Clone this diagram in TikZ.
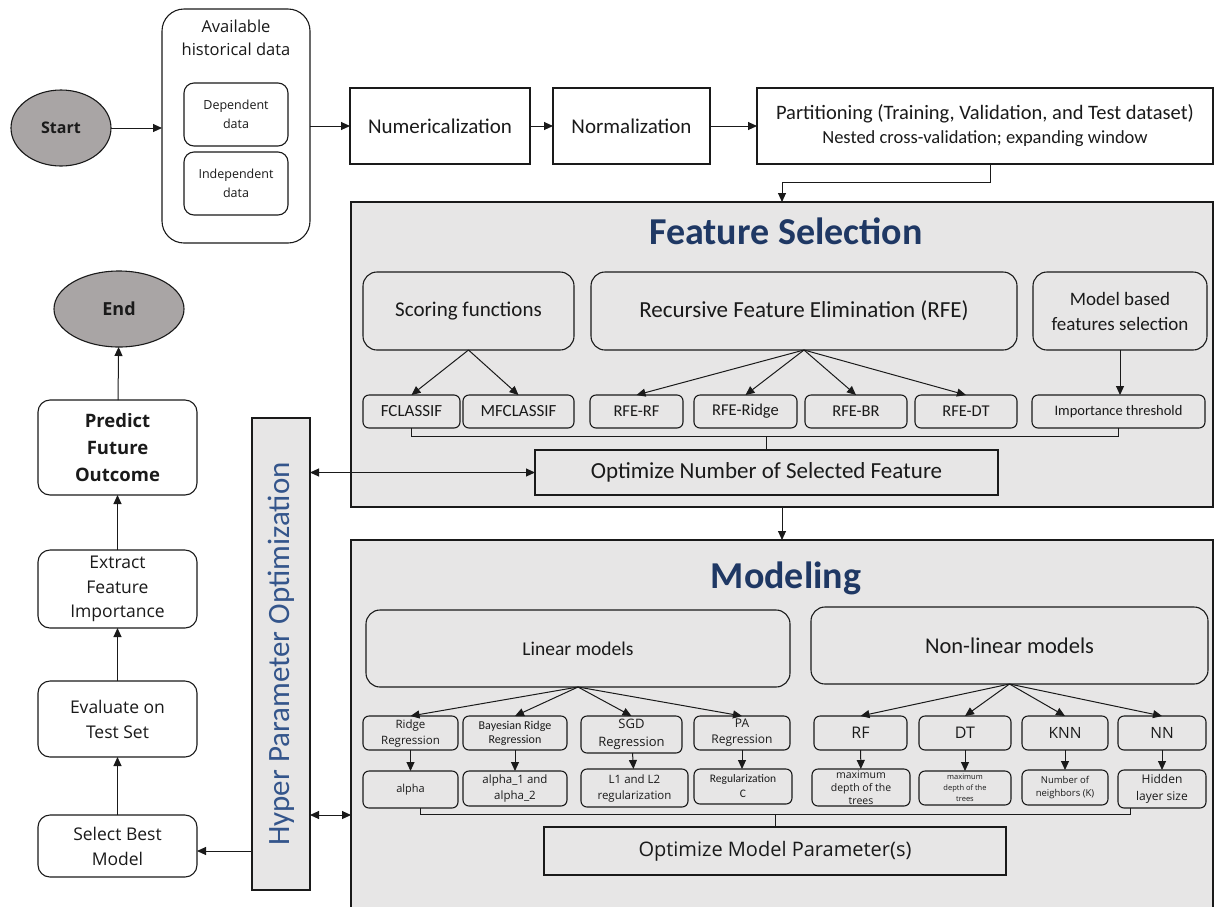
\documentclass[tikz,border=0pt]{standalone}
\usepackage{fontspec}
\setmainfont{Carlito}
\newfontfamily\sg{Open Sans}
\usetikzlibrary{arrows.meta,shapes.geometric,calc}

\definecolor{panelgray}{HTML}{E7E6E6}
\definecolor{termgray}{HTML}{A9A5A5}
\definecolor{titleblue}{HTML}{1F3864}
\definecolor{hpoblue}{HTML}{34558B}
\definecolor{ink}{HTML}{1A1A1A}

\newcommand\fs[2]{\fontsize{#1}{#2}\selectfont}
% \placebox[style]{name}{x1}{y1}{x2}{y2}{text}  -- box given by its corners
\newcommand\placebox[7][]{%
  \node[#1, minimum width={(#5)-(#3)}, minimum height={(#6)-(#4)}]
    (#2) at ({((#3)+(#5))/2},{((#4)+(#6))/2}) {#7};}

\tikzset{
  base/.style={draw=ink, line width=1.1pt, align=center, inner sep=1pt, outer sep=0pt, text=ink},
  sqbox/.style={base, fill=white},
  gbox/.style={base},
  rbox/.style={base, rounded corners=#1},
  rbox/.default=7pt,
  panel/.style={base, fill=panelgray},
  term/.style={base, ellipse, fill=termgray},
  arr/.style={draw=ink, line width=1pt, -{Triangle[length=9pt,width=8pt]}},
  darr/.style={draw=ink, line width=1pt, {Triangle[length=9pt,width=8pt]}-{Triangle[length=9pt,width=8pt]}},
  ln/.style={draw=ink, line width=1pt},
  cf/.style 2 args={font=\fs{#1}{#2}},
  sf/.style 2 args={font=\sg\fs{#1}{#2}},
}

\begin{document}
\begin{tikzpicture}[x=1pt,y=-1pt]
\useasboundingbox (0,0) rectangle (1215,906);
\clip (0,0) rectangle (1215,906);

% ---------- data preparation row ----------
\node[term, minimum width=100, minimum height=76, font=\sg\bfseries\fs{16}{19}] (start) at (61,128) {Start};

\placebox[rbox=22pt, fill=white]{avail}{162}{9}{310}{243}{}
\node[anchor=north, align=center, text=ink, inner sep=0pt, sf={16.5}{23}] (availt) at ($(avail.north)+(0,11)$) {Available\\historical data};
\placebox[rbox=10pt, sf={12.5}{19}]{dep}{184}{83}{288}{146}{Dependent\\data}
\placebox[rbox=10pt, sf={12.5}{19}]{indep}{184}{152}{288}{215}{Independent\\data}

\placebox[sqbox, cf={21}{24}]{num}{350}{88}{530}{164}{Numericalization}
\placebox[sqbox, cf={21}{24}]{norm}{553}{88}{710}{164}{Normalization}
\placebox[sqbox, cf={20.5}{24}]{part}{757}{88}{1213}{164}{Partitioning (Training, Validation, and Test dataset)\\\fs{18.5}{22}Nested cross-validation; expanding window}

\draw[arr] (start) -- (avail.west |- start);
\draw[arr] (avail.east |- num.west) -- (num.west);
\draw[arr] (num) -- (norm);
\draw[arr] (norm) -- (part);

% ---------- feature selection panel ----------
\placebox[panel]{fsbox}{351}{202}{1213}{507}{}
\node[text=titleblue, inner sep=0pt, font=\bfseries\fs{38}{42}] (fstitle) at (786,231) {Feature Selection};
\draw[arr] ([xshift=5pt]part.south) -- ++(0,18) -| (fsbox.north);

\placebox[rbox=14pt, cf={21}{24}]{score}{363}{272}{574}{350}{Scoring functions}
\placebox[rbox=14pt, cf={23}{26}]{rfe}{591}{272}{1017}{350}{Recursive Feature Elimination (RFE)}
\placebox[rbox=14pt, cf={19}{25}]{mb}{1033}{272}{1207}{350}{Model based\\features selection}

\placebox[rbox=6pt, cf={17}{19}]{fcl}{363}{395}{460}{428}{FCLASSIF}
\placebox[rbox=6pt, cf={17}{19}]{mfcl}{463}{395}{574}{428}{MFCLASSIF}
\placebox[rbox=6pt, cf={16.5}{19}]{rferf}{590}{395}{683}{428}{RFE-RF}
\placebox[rbox=6pt, cf={16.5}{19}]{rferidge}{694}{395}{797}{428}{RFE-Ridge}
\placebox[rbox=6pt, cf={16.5}{19}]{rfebr}{805}{395}{907}{428}{RFE-BR}
\placebox[rbox=6pt, cf={16.5}{19}]{rfedt}{915}{395}{1017}{428}{RFE-DT}
\placebox[rbox=6pt, cf={14.5}{17}]{imp}{1032}{395}{1205}{428}{Importance threshold}

\draw[arr] (score.south) -- (fcl.north);
\draw[arr] (score.south) -- (mfcl.north);
\foreach \t in {rferf,rferidge,rfebr,rfedt} \draw[arr] (rfe.south) -- (\t.north);
\draw[arr] (mb.south) -- (mb.south |- imp.north);

\placebox[gbox, cf={23}{26}]{optn}{535}{450}{998}{495}{Optimize Number of Selected Feature}
\coordinate (fsbar) at (0,436);
\draw[ln] (fcl.south) -- (fcl.south |- fsbar) -| (imp.south);
\draw[ln] (optn.north) -- (optn.north |- fsbar);

% ---------- modeling panel ----------
\placebox[panel]{modbox}{351}{540}{1213}{920}{}
\node[text=titleblue, inner sep=0pt, font=\bfseries\fs{38}{42}] (modtitle) at (786,578) {Modeling};
\draw[arr] (fsbox.south) -- (modbox.north);

\placebox[rbox=14pt, cf={19.5}{22}]{lin}{366}{610}{790}{687}{Linear models}
\placebox[rbox=14pt, cf={22.5}{26}]{nlin}{811}{607}{1208}{684}{Non-linear models}

\placebox[rbox=6pt, sf={11.5}{16}]{ridge}{363}{716}{458}{750}{Ridge\\Regression}
\placebox[rbox=6pt, cf={12}{14}]{bayes}{463}{716}{567}{750}{Bayesian Ridge\\Regression}
\placebox[rbox=6pt, sf={13}{18}]{sgd}{581}{716}{682}{753}{SGD\\Regression}
\placebox[rbox=6pt, sf={12}{16}]{pa}{694}{716}{790}{750}{PA\\Regression}

\placebox[rbox=6pt, sf={11}{15}]{alpha}{363}{771}{458}{808}{alpha}
\placebox[rbox=6pt, sf={11.5}{16}]{aonetwo}{463}{771}{567}{806}{alpha\_1 and\\alpha\_2}
\placebox[rbox=6pt, sf={11.5}{16}]{lonetwo}{581}{769}{688}{807}{L1 and L2\\regularization}
\placebox[rbox=6pt, cf={11.5}{15}]{regc}{694}{769}{792}{804}{Regularization\\C}

\placebox[rbox=6pt, sf={16}{19}]{rf}{814}{716}{907}{750}{RF}
\placebox[rbox=6pt, sf={16}{19}]{dt}{919}{716}{1011}{750}{DT}
\placebox[rbox=6pt, sf={15.5}{19}]{knn}{1022}{716}{1108}{750}{KNN}
\placebox[rbox=6pt, sf={15.5}{19}]{nn}{1118}{716}{1206}{750}{NN}

\placebox[rbox=6pt, sf={10.5}{13}]{mdrf}{812}{769}{910}{806}{maximum\\depth of the\\trees}
\placebox[rbox=6pt, sf={7.5}{11}]{mddt}{919}{771}{1011}{805}{maximum\\depth of the\\trees}
\placebox[rbox=6pt, sf={9.5}{13}]{nk}{1022}{770}{1108}{805}{Number of\\neighbors (K)}
\placebox[rbox=6pt, sf={12}{17}]{hls}{1118}{770}{1206}{808}{Hidden\\layer size}

\foreach \t in {ridge,bayes,sgd,pa} \draw[arr] (lin.south) -- (\t.north);
\foreach \t in {rf,dt,knn,nn} \draw[arr] (nlin.south) -- (\t.north);
\draw[arr] (ridge) -- (alpha);
\draw[arr] (bayes) -- (aonetwo);
\draw[arr] (sgd) -- (lonetwo);
\draw[arr] (pa.south) -- (pa.south |- regc.north);
\draw[arr] (rf) -- (mdrf);
\draw[arr] (dt) -- (mddt);
\draw[arr] (knn) -- (nk);
\draw[arr] (nn) -- (hls);

\placebox[gbox, sf={20}{24}]{optm}{544}{827}{1006}{875}{Optimize Model Parameter(s)}
\coordinate (mbar) at (0,814);
\draw[ln] ([xshift=10pt]alpha.south) -- ([xshift=10pt]alpha.south |- mbar) -| ([xshift=12pt]hls.south west);
\draw[ln] (optm.north -| 775,0) -- (775,0 |- mbar);

% ---------- hyper parameter optimisation bar ----------
\placebox[panel]{hyp}{252}{418}{310}{890}{}
\node[rotate=90, text=hpoblue, inner sep=0pt, font=\fs{31}{34}] (hyplabel) at (hyp.center) {Hyper Parameter Optimization};
\draw[darr] (optn.west -| hyp.east) -- (optn.west);
\coordinate (hm) at (0,815);
\draw[darr] (hm -| hyp.east) -- (hm -| modbox.west);

% ---------- final stages ----------
\placebox[rbox=12pt, fill=white, sf={17.5}{25}]{sel}{38}{815}{197}{877}{Select Best\\Model}
\placebox[rbox=12pt, fill=white, sf={17.5}{25}]{eval}{38}{681}{197}{757}{Evaluate on\\Test Set}
\placebox[rbox=12pt, fill=white, sf={17.5}{24.5}]{extr}{38}{550}{197}{628}{Extract\\Feature\\Importance}
\placebox[rbox=12pt, fill=white, font=\sg\bfseries\fs{18.5}{27}]{pred}{38}{400}{197}{495}{Predict\\Future\\Outcome}
\node[term, minimum width=130, minimum height=76, font=\sg\bfseries\fs{18}{21}] (endn) at (119,309) {End};

\draw[arr] (hyp.west |- 0,851) -- (sel.east |- 0,851);
\draw[arr] (sel) -- (eval);
\draw[arr] (eval) -- (extr);
\draw[arr] (extr) -- (pred);
\draw[arr] (pred) -- (endn);
\end{tikzpicture}
\end{document}
